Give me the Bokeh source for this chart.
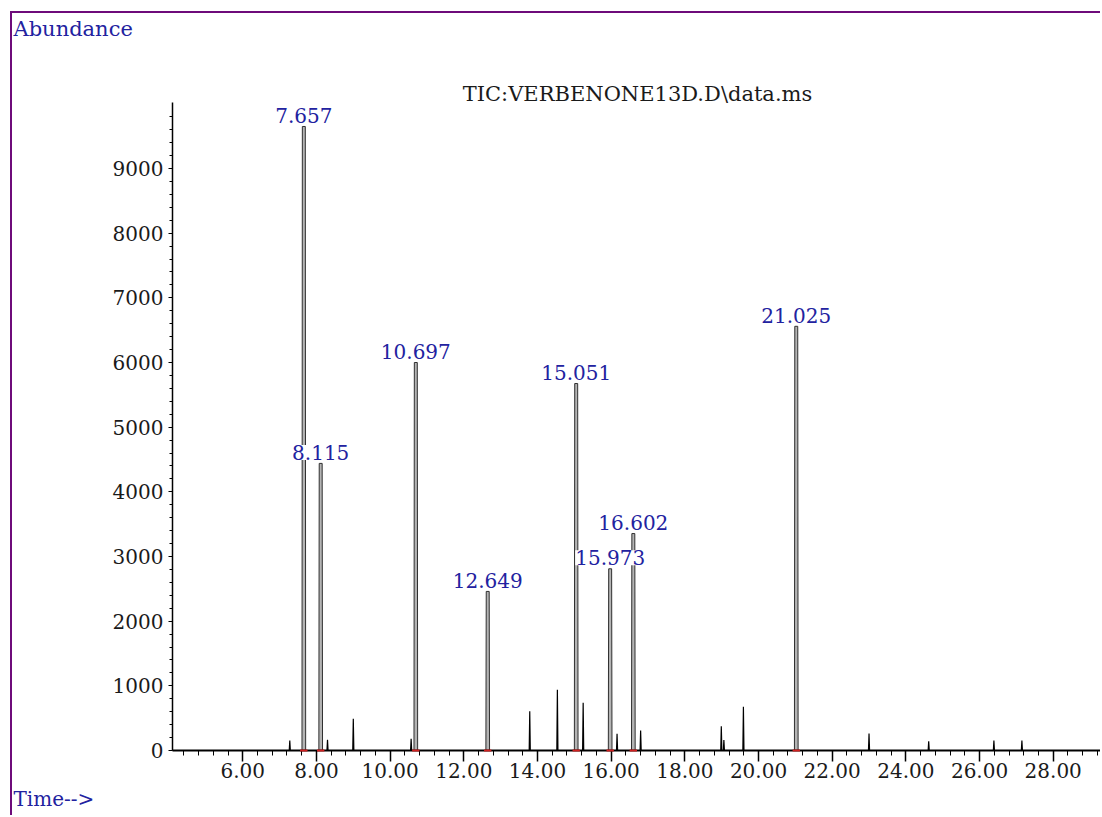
from bokeh.plotting import figure
from bokeh.models import (Range1d, FixedTicker, PrintfTickFormatter, Title,
                          ColumnDataSource)
from bokeh.embed import file_html
from bokeh.resources import INLINE
from bokeh.core.properties import value

# ---------------- data ----------------
# integrated (labelled) peaks: retention time (min) and abundance
peak_rt = [7.657, 8.115, 10.697, 12.649, 15.051, 15.973, 16.602, 21.025]
peak_abund = [9650, 4440, 6000, 2460, 5675, 2810, 3355, 6560]
peak_labels = ["7.657", "8.115", "10.697", "12.649", "15.051", "15.973", "16.602", "21.025"]

# small, unlabelled peaks
minor_rt = [7.276, 8.30, 9.00, 10.57, 13.79, 14.54, 15.24, 16.16, 16.80,
            18.99, 19.06, 19.59, 23.00, 24.62, 26.39, 27.15]
minor_abund = [155, 165, 490, 180, 605, 940, 740, 258, 309,
               376, 160, 675, 263, 144, 155, 155]

# axis ticks
x_major = [6, 8, 10, 12, 14, 16, 18, 20, 22, 24, 26, 28]
x_minor = [round(4.0 + 0.4 * i, 1) for i in range(1, 64)]
y_major = [0, 1000, 2000, 3000, 4000, 5000, 6000, 7000, 8000, 9000]
y_minor = list(range(0, 10000, 200))

title_text = "TIC:VERBENONE13D.D\\data.ms"
ylabel_text = "Abundance"
xlabel_text = "Time-->"

# ---------------- styles ----------------
FONT = "DejaVu Serif"
BLUE = "#2222a0"
PURPLE = "#6e0b7a"

p = figure(width=1090, height=804,
           x_range=Range1d(4.092, 29.338), y_range=Range1d(0, 10021),
           output_backend="svg", toolbar_location=None,
           min_border_left=160, min_border_right=0,
           min_border_top=89, min_border_bottom=67)
p.styles = {"margin-left": "10px", "margin-top": "11px",
            "border-left": "2px solid " + PURPLE,
            "border-top": "2px solid " + PURPLE}
p.outline_line_color = None
p.xgrid.visible = False
p.ygrid.visible = False
p.background_fill_color = "white"
p.border_fill_color = "white"

# large peaks as narrow filled spikes
hw_base, hw_top = 0.05, 0.04
pxs = [[r - hw_base, r - hw_top, r + hw_top, r + hw_base] for r in peak_rt]
pys = [[0, h, h, 0] for h in peak_abund]
p.patches(pxs, pys, fill_color="#b4b4b4", line_color="#303030", line_width=1)

# small peaks as thin spikes
sxs = [[r - 0.015, r, r + 0.015] for r in minor_rt]
sys_ = [[0, h, 0] for h in minor_abund]
p.multi_line(sxs, sys_, line_color="black", line_width=1.2)

# red integration markers at baseline
p.segment(x0=[r - 0.1 for r in peak_rt], x1=[r + 0.1 for r in peak_rt],
          y0=[0] * len(peak_rt), y1=[0] * len(peak_rt),
          line_color="#d02020", line_width=2, level="overlay")

# peak labels
src = ColumnDataSource(dict(x=peak_rt, y=peak_abund, t=peak_labels))
p.text(x="x", y="y", text="t", source=src, text_font=value(FONT),
       text_font_size=value("20px"), text_color=BLUE, text_align="center",
       text_baseline="alphabetic", y_offset=-11,
       background_fill_color="white")

# axes
xa = p.xaxis[0]
xa.ticker = FixedTicker(ticks=x_major, minor_ticks=x_minor)
xa.formatter = PrintfTickFormatter(format="%.2f")
xa.major_label_text_font = FONT
xa.major_label_text_font_size = "20px"
xa.major_label_text_color = "#1a1a1a"
xa.major_tick_out = 11
xa.major_tick_in = 0
xa.minor_tick_out = 5
xa.minor_tick_in = 0
xa.axis_line_width = 2
xa.major_tick_line_width = 1.5
xa.minor_tick_line_width = 1
xa.major_label_standoff = 1
xa.axis_line_color = "black"

ya = p.yaxis[0]
ya.ticker = FixedTicker(ticks=y_major, minor_ticks=y_minor)
ya.formatter = PrintfTickFormatter(format="%d")
ya.major_label_text_font = FONT
ya.major_label_text_font_size = "20px"
ya.major_label_text_color = "#1a1a1a"
ya.major_tick_out = 4
ya.major_tick_in = 0
ya.minor_tick_out = 3
ya.minor_tick_in = 0
ya.axis_line_width = 1.5
ya.major_label_standoff = 5
ya.axis_line_color = "black"

# texts: "Abundance" outermost, data-file title nearest the frame, spacer between
p.title.text = ylabel_text
p.title.align = "left"
p.title.offset = -159
p.title.vertical_align = "top"
p.title.standoff = 2
p.title.text_font = FONT
p.title.text_font_size = "21px"
p.title.text_font_style = "normal"
p.title.text_color = BLUE

p.add_layout(Title(text=title_text, align="center", standoff=-6, vertical_align="bottom",
                   text_font=FONT, text_font_size="21px", text_font_style="normal",
                   text_color="#1a1a1a"), "above")
p.add_layout(Title(text=" ", standoff=13, text_font=FONT, text_font_size="20px"), "above")
p.add_layout(Title(text=xlabel_text, align="left", offset=-159, standoff=9,
                   vertical_align="bottom",
                   text_font=FONT, text_font_size="20px", text_font_style="normal",
                   text_color=BLUE), "below")

open("out.html", "w").write(file_html(p, INLINE))
